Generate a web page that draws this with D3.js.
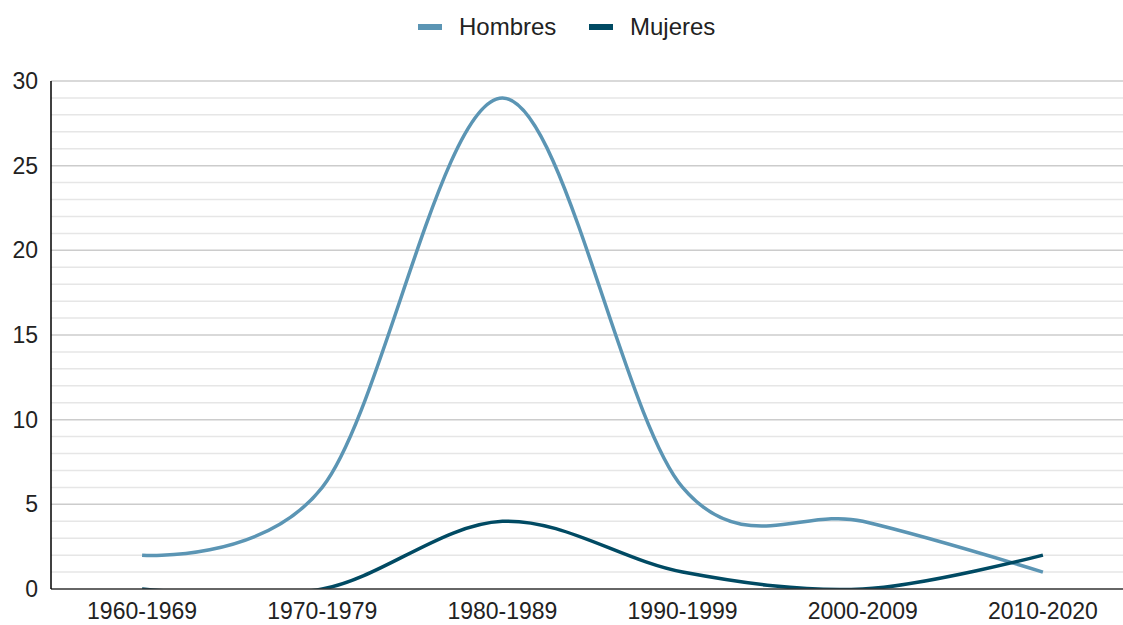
<!DOCTYPE html>
<html lang="es">
<head>
<meta charset="utf-8">
<title>Hombres y Mujeres por década</title>
<script src="https://cdn.jsdelivr.net/npm/d3@7"></script>
<style>
  body { margin: 0; background: #fff; }
  svg { display: block; font-family: "Liberation Sans", Arial, sans-serif; }
  .grid-minor line { stroke: #e6e6e6; stroke-width: 1.5; }
  .grid-major line { stroke: #cccccc; stroke-width: 1.5; }
  .tick-label { fill: #222; font-size: 23px; }
</style>
</head>
<body>
<script>
// datos
var decadas = ["1960-1969", "1970-1979", "1980-1989", "1990-1999", "2000-2009", "2010-2020"];
var hombres = [2, 6, 29, 6, 4, 1];
var mujeres = [0, 0, 4, 1, 0, 2];
var series = [
  { nombre: "Hombres", valores: hombres, color: "#5b95b4" },
  { nombre: "Mujeres", valores: mujeres, color: "#004a63" }
];
var yTicks = [0, 5, 10, 15, 20, 25, 30];

var width = 1123, height = 625;
var margin = { top: 81, left: 51, bottom: 36 };
var plotBottom = height - margin.bottom;

var svg = d3.select("body").append("svg")
  .attr("width", width)
  .attr("height", height);

var x = d3.scalePoint()
  .domain(decadas)
  .range([52, 1133])
  .padding(0.5);

var y = d3.scaleLinear()
  .domain([0, 30])
  .range([plotBottom, margin.top]);

// minor grid
svg.append("g").attr("class", "grid-minor")
  .selectAll("line")
  .data(d3.range(0, 31).filter(function(v){ return v % 5 != 0; }))
  .enter().append("line")
  .attr("x1", margin.left).attr("x2", width)
  .attr("y1", function(d){ return y(d); })
  .attr("y2", function(d){ return y(d); });

// major grid
svg.append("g").attr("class", "grid-major")
  .selectAll("line")
  .data(yTicks.filter(function(v){ return v > 0; }))
  .enter().append("line")
  .attr("x1", margin.left).attr("x2", width)
  .attr("y1", function(d){ return y(d); })
  .attr("y2", function(d){ return y(d); });

// y labels
svg.append("g")
  .selectAll("text")
  .data(yTicks)
  .enter().append("text")
  .attr("class", "tick-label")
  .attr("x", 38)
  .attr("y", function(d){ return y(d) + 8; })
  .attr("text-anchor", "end")
  .text(function(d){ return d; });

// x labels
svg.append("g")
  .selectAll("text")
  .data(decadas)
  .enter().append("text")
  .attr("class", "tick-label")
  .attr("x", function(d){ return x(d); })
  .attr("y", 619)
  .attr("text-anchor", "middle")
  .text(function(d){ return d; });

// clip lines to plot area
svg.append("clipPath").attr("id", "plot-clip")
  .append("rect")
  .attr("x", margin.left).attr("y", 0)
  .attr("width", width - margin.left)
  .attr("height", plotBottom);

var line = d3.line()
  .x(function(d, i){ return x(decadas[i]); })
  .y(function(d){ return y(d); })
  .curve(d3.curveCardinal.tension(0));

svg.append("g").attr("clip-path", "url(#plot-clip)")
  .selectAll("path")
  .data(series)
  .enter().append("path")
  .attr("d", function(s){ return line(s.valores); })
  .attr("fill", "none")
  .attr("stroke", function(s){ return s.color; })
  .attr("stroke-width", 3.5)
  .attr("stroke-linejoin", "round");

// axes lines
svg.append("line")
  .attr("x1", margin.left).attr("x2", width)
  .attr("y1", plotBottom).attr("y2", plotBottom)
  .attr("stroke", "#333").attr("stroke-width", 1.5);
svg.append("line")
  .attr("x1", margin.left).attr("x2", margin.left)
  .attr("y1", margin.top).attr("y2", plotBottom)
  .attr("stroke", "#000").attr("stroke-width", 1.5);

// legend
var legendPos = [418, 589];
var legend = svg.append("g").selectAll("g")
  .data(series)
  .enter().append("g")
  .attr("transform", function(d, i){ return "translate(" + legendPos[i] + ",0)"; });
legend.append("rect")
  .attr("x", 0).attr("y", 24)
  .attr("width", 24).attr("height", 6)
  .attr("fill", function(d){ return d.color; });
legend.append("text")
  .attr("class", "tick-label")
  .attr("x", 41).attr("y", 35)
  .style("font-size", "24px")
  .text(function(d){ return d.nombre; });
</script>
</body>
</html>
